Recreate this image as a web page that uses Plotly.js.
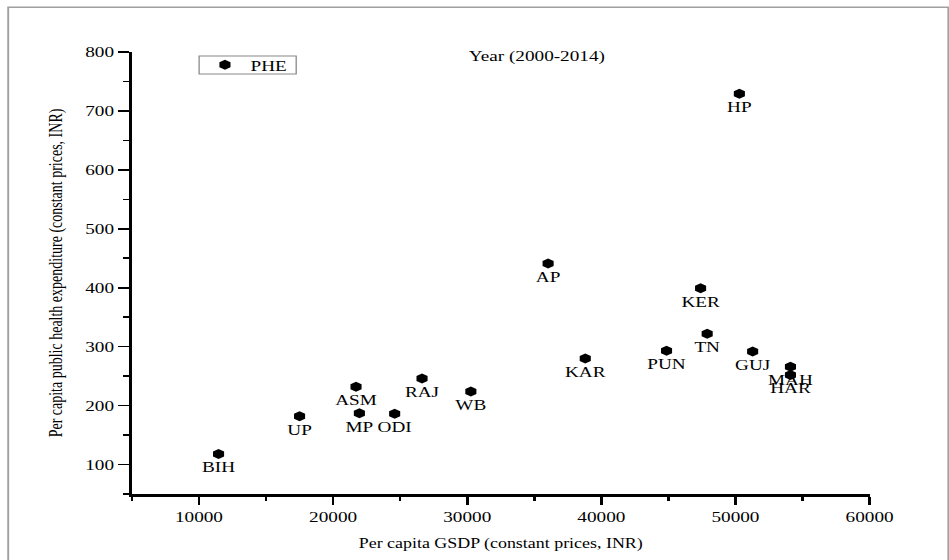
<!DOCTYPE html>
<html>
<head>
<meta charset="utf-8">
<script src="https://cdn.plot.ly/plotly-3.0.1.min.js"></script>
<style>
  html, body { margin: 0; padding: 0; background: #fff; overflow: hidden; }
  #chart { width: 741px; height: 560px; transform: scaleX(1.2807); transform-origin: 0 0; }
</style>
</head>
<body>
<div id="chart"></div>
<script>
// State abbreviations
var states = ['BIH','UP','ASM','MP','ODI','RAJ','WB','AP','KAR','PUN','KER','TN','HP','GUJ','MAH','HAR'];
// Per capita GSDP (constant prices, INR)
var gsdp = [11460, 17500, 21710, 21960, 24590, 26630, 30270, 36030, 38800, 44860, 47400, 47890, 50290, 51280, 54100, 54100];
// Per capita public health expenditure (constant prices, INR)
var phe = [118, 182, 232, 187, 186, 246, 224, 441, 280, 293, 399, 322, 729, 292, 266, 252];

var seriesName = 'PHE';
var subtitle = 'Year (2000-2014)';
var xTitle = 'Per capita GSDP (constant prices, INR)';
var yTitle = 'Per capita public health expenditure (constant prices, INR)';

var serif = 'Liberation Serif, Times New Roman, serif';

var trace = {
  type: 'scatter',
  mode: 'markers+text',
  name: seriesName,
  x: gsdp,
  y: phe,
  text: states,
  textposition: 'bottom center',
  textfont: {family: serif, size: 15, color: '#000'},
  marker: {symbol: 'hexagon', size: 10, color: '#000', line: {width: 0}},
  cliponaxis: false,
  hoverinfo: 'x+y+text'
};

var layout = {
  width: 741,
  height: 560,
  margin: {l: 103, r: 62, t: 52, b: 66},
  paper_bgcolor: '#fff',
  plot_bgcolor: '#fff',
  font: {family: serif, size: 15, color: '#000'},
  showlegend: true,
  legend: {
    x: 0.0914, y: 1.0079, xanchor: 'left', yanchor: 'top',
    borderwidth: 0, bgcolor: 'rgba(0,0,0,0)',
    font: {family: serif, size: 15, color: '#000'},
    itemwidth: 30
  },
  xaxis: {
    range: [5000, 60000],
    tick0: 0, dtick: 10000,
    tickformat: 'd',
    showgrid: false, zeroline: false,
    showline: true, linecolor: '#000', linewidth: 2.5,
    ticks: 'outside', ticklen: 8, tickwidth: 2, tickcolor: '#000',
    minor: {dtick: 5000, ticks: 'outside', ticklen: 4, tickwidth: 2, tickcolor: '#000', showgrid: false},
    tickfont: {family: serif, size: 15, color: '#000'},
    title: {text: xTitle, font: {family: serif, size: 14, color: '#000'}, standoff: 14}
  },
  yaxis: {
    range: [50, 800],
    tick0: 0, dtick: 100,
    showgrid: false, zeroline: false,
    showline: true, linecolor: '#000', linewidth: 2,
    ticks: 'outside', ticklen: 9, tickwidth: 1.6, tickcolor: '#000',
    minor: {dtick: 50, ticks: 'outside', ticklen: 5, tickwidth: 1.6, tickcolor: '#000', showgrid: false},
    tickfont: {family: serif, size: 15, color: '#000'},
    title: {text: yTitle, font: {family: serif, size: 14, color: '#000'}, standoff: 14}
  },
  annotations: [{
    xref: 'paper', yref: 'paper', x: 0.548, y: 0.9887,
    xanchor: 'center', yanchor: 'middle', showarrow: false,
    text: subtitle, font: {family: serif, size: 15, color: '#000'}
  }],
  shapes: [{
    type: 'rect', xref: 'paper', yref: 'paper',
    x0: -0.1677, x1: 1.1068, y0: -0.25, y1: 1.1011,
    line: {color: '#a0a0a0', width: 1.5}, layer: 'below'
  }, {
    type: 'rect', xref: 'paper', yref: 'paper',
    x0: 0.0911, x1: 0.2227, y0: 0.9502, y1: 0.9910,
    line: {color: '#888', width: 1}, layer: 'below'
  }]
};

Plotly.newPlot('chart', [trace], layout, {displayModeBar: false, staticPlot: true});
</script>
</body>
</html>
